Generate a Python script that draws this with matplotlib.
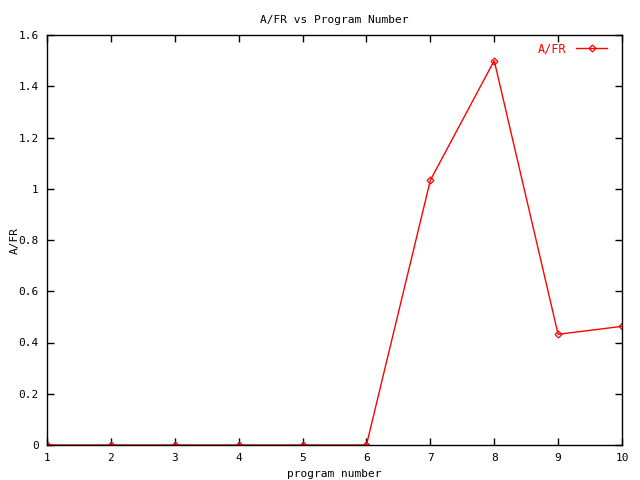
import matplotlib
matplotlib.use("Agg")
import matplotlib.pyplot as plt

program = [1, 2, 3, 4, 5, 6, 7, 8, 9, 10]
afr = [0, 0, 0, 0, 0, 0, 1.033, 1.5, 0.432, 0.463]
xticks = [1, 2, 3, 4, 5, 6, 7, 8, 9, 10]
yticks = [0, 0.2, 0.4, 0.6, 0.8, 1.0, 1.2, 1.4, 1.6]
ytick_labels = ["0", "0.2", "0.4", "0.6", "0.8", "1", "1.2", "1.4", "1.6"]

plt.rcParams['font.family'] = ['DejaVu Sans Mono']
plt.rcParams['font.size'] = 8

fig = plt.figure(figsize=(6.4, 4.8), dpi=100)
ax = fig.add_axes([47/640, 35/480, 575/640, 410/480])

ax.plot(program, afr, color='red', lw=1, marker='D', ms=3.5,
        mfc='none', mec='red', mew=0.9, label='A/FR')

ax.set_xlim(1, 10)
ax.set_ylim(0, 1.6)
ax.set_xticks(xticks)
ax.set_yticks(yticks)
ax.set_yticklabels(ytick_labels)
ax.tick_params(direction='in', length=5, width=1, top=True, right=True,
               labelsize=8, pad=6)
for s in ax.spines.values():
    s.set_linewidth(1)

ax.set_title("A/FR vs Program Number", fontsize=8, pad=9)
ax.set_xlabel("program number", fontsize=8)
ax.xaxis.set_label_coords(0.5, -24/410)
ax.set_ylabel("A/FR", fontsize=8)
ax.yaxis.set_label_coords(-27/575, 0.5)

leg = ax.legend(loc='upper right', frameon=False, markerfirst=False,
                labelcolor='red', handlelength=2.6, borderaxespad=0.2,
                handletextpad=0.8, fontsize=8.5,
                bbox_to_anchor=(1 - 8/575, 1))

fig.savefig("out.png", dpi=100)
